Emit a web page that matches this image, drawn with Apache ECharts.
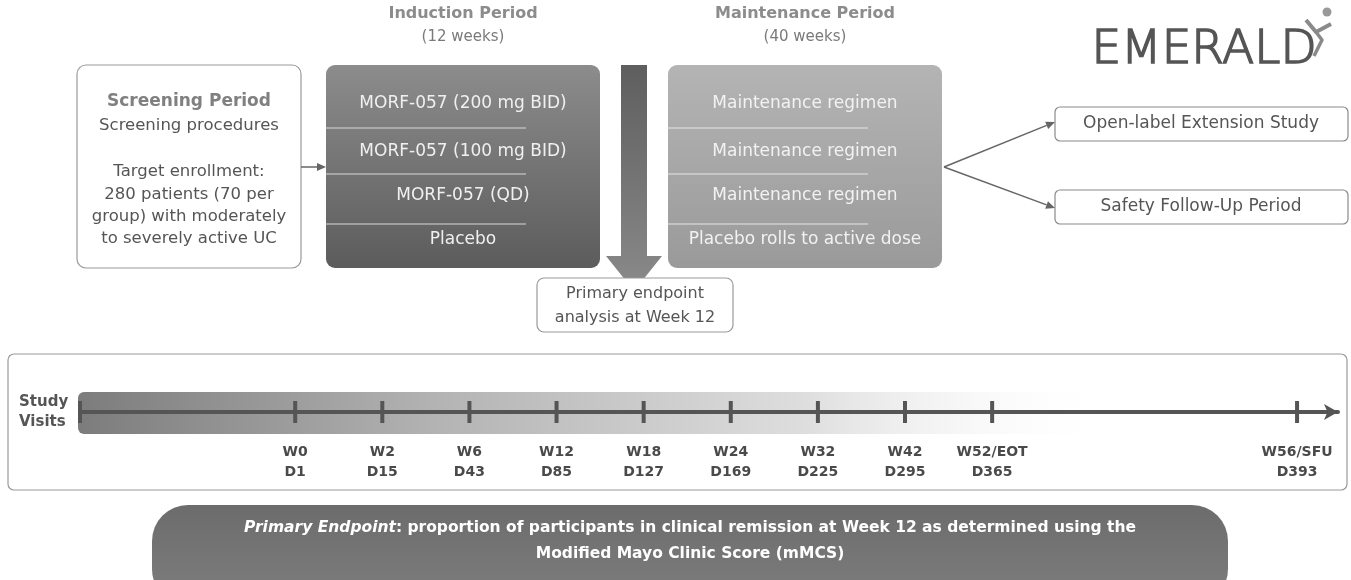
<!DOCTYPE html>
<html>
<head>
<meta charset="utf-8">
<script src="https://cdn.jsdelivr.net/npm/echarts@6/dist/echarts.min.js"></script>
<style>
  html, body { margin: 0; padding: 0; background: #fff; }
  #chart { width: 1351px; height: 580px; }
</style>
</head>
<body>
<div id="chart"></div>
<script>
// diagram texts
const periodTitles = ['Induction Period', 'Maintenance Period']
const periodLengths = ['(12 weeks)', '(40 weeks)']
const screeningTitle = 'Screening Period'
const screeningLines = ['Screening procedures', 'Target enrollment:', '280 patients (70 per', 'group) with moderately', 'to severely active UC']
const inductionArms = ['MORF-057 (200 mg BID)', 'MORF-057 (100 mg BID)', 'MORF-057 (QD)', 'Placebo']
const maintenanceArms = ['Maintenance regimen', 'Maintenance regimen', 'Maintenance regimen', 'Placebo rolls to active dose']
const endpointLines = ['Primary endpoint', 'analysis at Week 12']
const outcomes = ['Open-label Extension Study', 'Safety Follow-Up Period']
const logoText = 'EMERALD'

// study visits on the timeline
const visitWeeks = ['W0', 'W2', 'W6', 'W12', 'W18', 'W24', 'W32', 'W42', 'W52/EOT', 'W56/SFU']
const visitDays = ['D1', 'D15', 'D43', 'D85', 'D127', 'D169', 'D225', 'D295', 'D365', 'D393']

const FONT = "'DejaVu Sans', sans-serif"

function txt (x, y, text, size, fill, weight, align) {
  return {
    type: 'text', x: x, y: y, z: 20,
    style: {
      text: text, fill: fill, fontSize: size, fontFamily: FONT, fontWeight: weight || 'normal',
      align: align || 'center', verticalAlign: 'middle',
      textAlign: align || 'center', textVerticalAlign: 'middle'
    }
  }
}

function box (x, y, w, h, r, fill, stroke) {
  return {
    type: 'rect', z: 5,
    shape: {x: x, y: y, width: w, height: h, r: r},
    style: {fill: fill, stroke: stroke || null, lineWidth: stroke ? 1.2 : 0}
  }
}

function arrow (x1, y1, x2, y2, color) {
  const a = Math.atan2(y2 - y1, x2 - x1)
  const L = 9, W = 4
  const bx = x2 - L * Math.cos(a), by = y2 - L * Math.sin(a)
  return [
    {type: 'line', z: 6, shape: {x1: x1, y1: y1, x2: bx, y2: by}, style: {stroke: color, lineWidth: 1.5}},
    {type: 'polygon', z: 6, shape: {points: [[x2, y2], [bx + W * Math.sin(a), by - W * Math.cos(a)], [bx - W * Math.sin(a), by + W * Math.cos(a)]]}, style: {fill: color}}
  ]
}

const vGrad = (c1, c2) => new echarts.graphic.LinearGradient(0, 0, 0, 1, [{offset: 0, color: c1}, {offset: 1, color: c2}])

let g = []

// period titles
g.push(txt(463, 14, periodTitles[0], 16, '#8c8c8c', 'bold'))
g.push(txt(463, 37, periodLengths[0], 15, '#7a7a7a'))
g.push(txt(805, 14, periodTitles[1], 16, '#8c8c8c', 'bold'))
g.push(txt(805, 37, periodLengths[1], 15, '#7a7a7a'))

// logo
g.push({type: 'text', x: 1204, y: 51, z: 20, style: {text: logoText, fill: '#555', stroke: '#555', lineWidth: 1.6, fontSize: 47, fontFamily: FONT, fontWeight: 200, align: 'center', verticalAlign: 'middle', textAlign: 'center', textVerticalAlign: 'middle'}})
g.push({type: 'circle', z: 20, shape: {cx: 1327, cy: 12, r: 4.5}, style: {fill: '#999'}})
g.push({type: 'polyline', z: 20, shape: {points: [[1306, 20], [1316, 32], [1331, 24]]}, style: {stroke: '#8a8a8a', lineWidth: 4, fill: null, lineJoin: 'round'}})
g.push({type: 'polyline', z: 20, shape: {points: [[1316, 32], [1322, 40], [1314, 56]]}, style: {stroke: '#8a8a8a', lineWidth: 3.5, fill: null, lineJoin: 'round'}})

// screening
g.push(box(77, 65, 224, 203, 9, '#fff', '#9a9a9a'))
g.push(txt(189, 102, screeningTitle, 17, '#808080', 'bold'))
const scrY = [126, 172, 195, 217, 239]
screeningLines.forEach((s, i) => g.push(txt(189, scrY[i], s, 16.5, '#555')))
g = g.concat(arrow(301, 167, 326, 167, '#666'))

// induction block
g.push(box(326, 65, 274, 203, 9, vGrad('#8c8c8c', '#5c5c5c')))
const rowY = [104, 152, 196, 240]
const divY = [128, 174, 224]
inductionArms.forEach((s, i) => g.push(txt(463, rowY[i], s, 17, '#f0f0f0')))
divY.forEach(y => g.push({type: 'line', z: 8, shape: {x1: 326, y1: y, x2: 526, y2: y}, style: {stroke: '#d8d8d8', lineWidth: 1}}))

// maintenance block
g.push(box(668, 65, 274, 203, 9, vGrad('#b4b4b4', '#9a9a9a')))
maintenanceArms.forEach((s, i) => g.push(txt(805, rowY[i], s, 17, '#f2f2f2')))
divY.forEach(y => g.push({type: 'line', z: 8, shape: {x1: 668, y1: y, x2: 868, y2: y}, style: {stroke: '#e6e6e6', lineWidth: 1}}))

// primary endpoint arrow + box
g.push({type: 'polygon', z: 9, shape: {points: [[621, 65], [647, 65], [647, 256], [662, 256], [634, 291], [606, 256], [621, 256]]}, style: {fill: vGrad('#5e5e5e', '#8a8a8a')}})
g.push({type: 'rect', z: 10, shape: {x: 537, y: 278, width: 196, height: 54, r: 7}, style: {fill: '#fff', stroke: '#9a9a9a', lineWidth: 1.2}})
g.push(txt(635, 294, endpointLines[0], 16, '#555'))
g.push(txt(635, 318, endpointLines[1], 16, '#555'))

// outcomes
g = g.concat(arrow(944, 167, 1055, 122, '#666'))
g = g.concat(arrow(944, 167, 1055, 208, '#666'))
g.push(box(1055, 107, 293, 34, 5, '#fff', '#8a8a8a'))
g.push(txt(1201, 124, outcomes[0], 17, '#555'))
g.push(box(1055, 190, 293, 34, 5, '#fff', '#8a8a8a'))
g.push(txt(1201, 207, outcomes[1], 17, '#555'))

// study visits panel
g.push({type: 'rect', z: 0, shape: {x: 8, y: 354, width: 1339, height: 136, r: 6}, style: {fill: '#fff', stroke: '#9a9a9a', lineWidth: 1.2}})
g.push({type: 'rect', z: 1, shape: {x: 78, y: 392, width: 1040, height: 42, r: [6, 0, 0, 6]},
  style: {fill: new echarts.graphic.LinearGradient(0, 0, 1, 0, [
    {offset: 0, color: '#7c7c7c'}, {offset: 0.35, color: '#b4b4b4'}, {offset: 0.7, color: '#dedede'}, {offset: 1, color: 'rgba(255,255,255,0)'}])}})
g.push({type: 'text', x: 19, y: 412, z: 20, style: {text: 'Study\nVisits', fill: '#555', fontSize: 15, fontFamily: FONT, fontWeight: 'bold', lineHeight: 20, align: 'left', verticalAlign: 'middle', textAlign: 'left', textVerticalAlign: 'middle'}})

// primary endpoint banner
g.push({type: 'rect', z: 5, shape: {x: 152, y: 505, width: 1076, height: 100, r: 36}, style: {fill: vGrad('#6c6c6c', '#7e7e7e')}})
g.push({type: 'text', x: 690, y: 541, z: 20, style: {
  text: '{it|Primary Endpoint}: proportion of participants in clinical remission at Week 12 as determined using the\nModified Mayo Clinic Score (mMCS)',
  fill: '#fff', fontSize: 15.5, fontFamily: FONT, fontWeight: 'bold', lineHeight: 26,
  align: 'center', verticalAlign: 'middle', textAlign: 'center', textVerticalAlign: 'middle',
  rich: {it: {fontStyle: 'italic', fontWeight: 'bold', fontSize: 15.5, fontFamily: FONT, fill: '#fff'}}
}})

// timeline axis: visits evenly spaced, follow-up visit after a gap
const axisMin = -2.47, axisMax = 11.97
const slot = i => (i < visitWeeks.length - 1 ? i : i + 2.5)
const visitData = visitWeeks.map((w, i) => ({value: [slot(i), 0], name: w + '\n' + visitDays[i]}))

const chart = echarts.init(document.getElementById('chart'))
chart.setOption({
  animation: false,
  graphic: {elements: g},
  grid: {left: 80, right: 13, top: 400, height: 24},
  xAxis: {
    type: 'value', min: axisMin, max: axisMax, z: 10,
    axisLine: {show: true, onZero: true, symbol: ['none', 'arrow'], symbolSize: [12, 14], lineStyle: {color: '#555', width: 4}},
    axisTick: {show: false}, axisLabel: {show: false}, splitLine: {show: false}
  },
  yAxis: {type: 'value', min: -1, max: 1, show: false},
  series: [
    {
      type: 'scatter', z: 12, symbol: 'rect', symbolSize: [4, 22], itemStyle: {color: '#555', opacity: 1},
      data: visitData,
      label: {show: true, position: 'bottom', distance: 19, formatter: p => p.name, color: '#4a4a4a', fontSize: 14, fontFamily: FONT, fontWeight: 'bold', lineHeight: 20}
    },
    {
      type: 'scatter', z: 12, symbol: 'rect', symbolSize: [4, 22], itemStyle: {color: '#555', opacity: 1},
      data: [[axisMin, 0]]
    }
  ]
})
</script>
</body>
</html>
